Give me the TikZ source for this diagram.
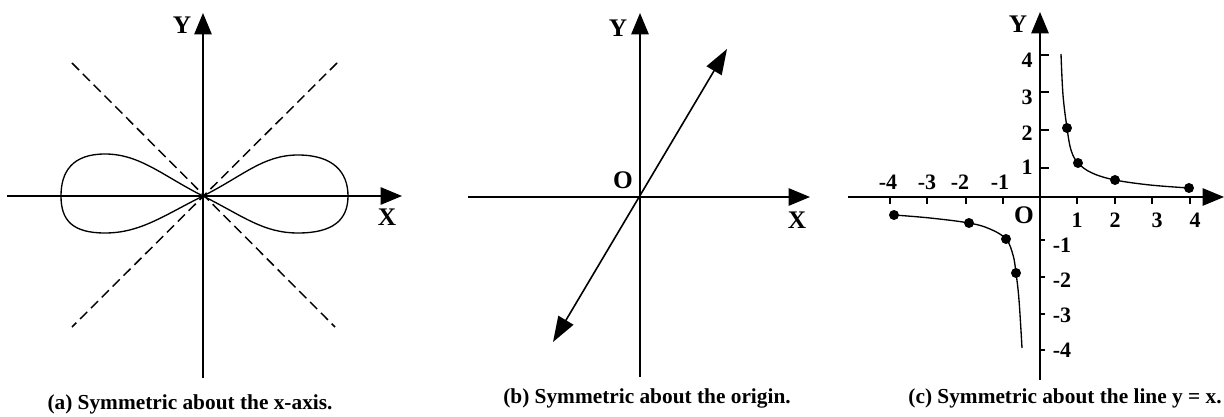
\documentclass[tikz,border=0pt]{standalone}
\usepackage{fontspec}
\setmainfont{Liberation Serif}
\usetikzlibrary{arrows.meta}
\begin{document}
\begin{tikzpicture}[x=0.75pt,y=-0.75pt,
  axisline/.style={line width=1.2pt,-{Triangle[length=16pt,width=13pt]}},
  curveline/.style={line width=1pt},
  dashline/.style={line width=1.1pt,dash pattern=on 7.5pt off 4pt},
  diagline/.style={line width=1.2pt,{Triangle[length=19pt,width=13pt]}-{Triangle[length=19pt,width=13pt]}},
  axlab/.style={font=\fontsize{19}{22}\selectfont\bfseries,inner sep=0pt},
  numlab/.style={font=\fontsize{16.5}{19}\selectfont\bfseries,inner sep=0pt},
  caplab/.style={font=\fontsize{16}{19}\selectfont\bfseries,inner sep=0pt},
  dotnode/.style={circle,fill=black,inner sep=0pt,minimum size=7.5pt},
  tickline/.style={line width=0.9pt}]
\useasboundingbox (0,0) rectangle (1224,417);

% ---------- panel (a) ----------
\coordinate (aO) at (203,196);
\coordinate (axL) at (7,196);
\coordinate (axR) at (402,196);
\coordinate (ayB) at (203,378);
\coordinate (ayT) at (203,13);
\draw[axisline] (axL) -- (axR);
\draw[axisline] (ayB) -- (ayT);
\coordinate (ad1a) at (72,63);
\coordinate (ad1b) at (335,327);
\coordinate (ad2a) at (337,63);
\coordinate (ad2b) at (72,327);
\draw[dashline] (ad1a) -- (ad1b);
\draw[dashline] (ad2a) -- (ad2b);
\draw[curveline] (aO) .. controls (243,176) and (263,155) .. (298,155)
  .. controls (333,155) and (348,172) .. (348,196)
  .. controls (348,220) and (333,233) .. (298,233)
  .. controls (263,233) and (243,216) .. (aO);
\draw[curveline] (aO) .. controls (163,176) and (140,154) .. (105,154)
  .. controls (72,154) and (61,172) .. (61,196)
  .. controls (61,220) and (72,233) .. (105,233)
  .. controls (140,233) and (163,216) .. (aO);
\node[axlab] (aY) at (182,25) {Y};
\node[axlab] (aX) at (387,217) {X};
\node[caplab] (capa) at (190,404) {(a) Symmetric about the x-axis.};

% ---------- panel (b) ----------
\coordinate (bO) at (640,197);
\coordinate (bxL) at (468,197);
\coordinate (bxR) at (810,197);
\coordinate (byB) at (640,377);
\coordinate (byT) at (640,13);
\draw[axisline] (bxL) -- (bxR);
\draw[axisline] (byB) -- (byT);
\coordinate (bdA) at (553,342);
\coordinate (bdB) at (727,49);
\draw[diagline] (bdA) -- (bdB);
\node[axlab] (bY) at (618,28) {Y};
\node[axlab] (bX) at (797,220) {X};
\node[axlab] (bOl) at (623,180) {O};
\node[caplab] (capb) at (647,398) {(b) Symmetric about the origin.};

% ---------- panel (c) ----------
\coordinate (cO) at (1040,197);
\coordinate (cxL) at (848,197);
\coordinate (cxR) at (1224,197);
\coordinate (cyB) at (1040,380);
\coordinate (cyT) at (1040,12);
\draw[axisline] (cxL) -- (cxR);
\draw[axisline] (cyB) -- (cyT);
% x ticks
\foreach \tx in {890,927,966,1003,1077,1115,1152,1190}
  \draw[tickline] (\tx,197) -- (\tx,204);
% y ticks
\foreach \ty in {55,92,130,168}
  \draw[tickline] (1040,\ty) -- (1049,\ty);
\foreach \ty in {240,277,314,350}
  \draw[tickline] (1040,\ty) -- (1045,\ty);
% curve branches
\draw[curveline] plot[smooth,tension=0.6] coordinates {(1061,54) (1063,95) (1067,128) (1071,150) (1078,163) (1092,173) (1115,180) (1150,185) (1189,188)};
\draw[curveline] plot[smooth,tension=0.6] coordinates {(894,215) (930,218) (969,223) (990,229) (1006,239) (1013,255) (1016,273) (1019,300) (1022,348)};
\node[dotnode] (p1) at (1067,128) {};
\node[dotnode] (p2) at (1078,163) {};
\node[dotnode] (p3) at (1115,180) {};
\node[dotnode] (p4) at (1189,188) {};
\node[dotnode] (q1) at (894,215) {};
\node[dotnode] (q2) at (969,223) {};
\node[dotnode] (q3) at (1006,239) {};
\node[dotnode] (q4) at (1016,273) {};
% labels
\node[numlab] (xm4) at (888,182) {-4};
\node[numlab] (xm3) at (927,182) {-3};
\node[numlab] (xm2) at (960,182) {-2};
\node[numlab] (xm1) at (1000,182) {-1};
\node[numlab] (xp1) at (1077,220) {1};
\node[numlab] (xp2) at (1115,220) {2};
\node[numlab] (xp3) at (1157,220) {3};
\node[numlab] (xp4) at (1195,220) {4};
\node[numlab] (yp4) at (1027,60) {4};
\node[numlab] (yp3) at (1027,97) {3};
\node[numlab] (yp2) at (1027,133) {2};
\node[numlab] (yp1) at (1027,167) {1};
\node[numlab] (ym1) at (1062,245) {-1};
\node[numlab] (ym2) at (1062,280) {-2};
\node[numlab] (ym3) at (1062,315) {-3};
\node[numlab] (ym4) at (1062,350) {-4};
\node[axlab] (cOl) at (1024,215) {O};
\node[axlab] (cY) at (1018,24) {Y};
\node[caplab] (capc) at (1065,398) {(c) Symmetric about the line y = x.};
\end{tikzpicture}
\end{document}
